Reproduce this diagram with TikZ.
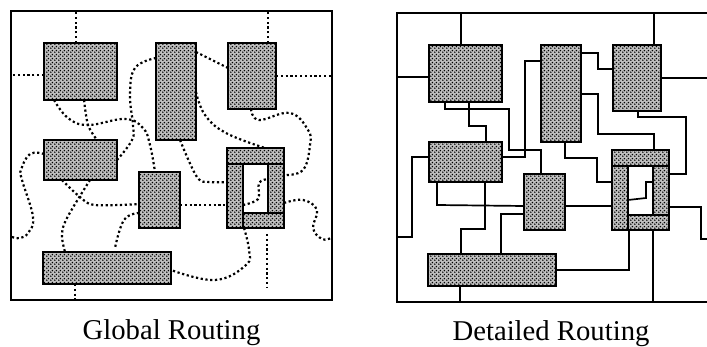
\documentclass[tikz,border=0pt]{standalone}
\usepackage{fontspec}
\setmainfont{Liberation Serif}
\usetikzlibrary{calc,positioning,patterns}
\pgfdeclarepatternformonly{chipdots}{\pgfqpoint{-2pt}{-2pt}}{\pgfqpoint{2pt}{2pt}}{\pgfqpoint{4pt}{4pt}}{%
  \pgfpathcircle{\pgfqpoint{-1pt}{-1pt}}{1pt}
  \pgfpathcircle{\pgfqpoint{1pt}{1pt}}{1pt}
  \pgfusepath{fill}}
\tikzset{
  frameline/.style={draw,line width=1.7pt,inner sep=0pt,outer sep=0pt,anchor=north west},
  blockbox/.style={draw,line width=2.6pt,preaction={fill=black!25},pattern=chipdots,inner sep=0pt,outer sep=0pt,anchor=north west},
  holebox/.style={draw,line width=2.6pt,fill=white,inner sep=0pt,outer sep=0pt,anchor=north west},
  dotroute/.style={line width=2.2pt,dash pattern=on 2.2pt off 2.6pt},
  wireroute/.style={line width=1.7pt,line join=miter},
  caption/.style={font=\fontsize{28.7}{30}\selectfont,anchor=base}
}
\newcommand{\blocknode}[6][blockbox]{%
  \node[#1,minimum width=#5pt,minimum height=#6pt] (#2) at (#3,#4) {};}
\newcommand{\placeblocks}[1]{%
  \blocknode{#1A}{44}{43}{73}{57}
  \blocknode{#1B}{156}{43}{40}{97}
  \blocknode{#1C}{228}{43}{48}{66}
  \blocknode{#1D}{44}{140}{73}{40}
  \blocknode{#1E}{139}{172}{41}{56}
  \blocknode{#1F}{43}{252}{128}{32}
  \blocknode{#1G}{227}{148}{57}{80}
  \blocknode[holebox]{#1H}{243}{164}{25}{49}
  \draw[line width=2.6pt] (#1G.west |- #1H.north) -- (#1H.north west);
  \draw[line width=2.6pt] (#1H.north east) -- (#1G.east |- #1H.north);
  \draw[line width=2.6pt] (#1H.south east) -- (#1G.east |- #1H.south);
  \draw[line width=2.6pt] (#1H.south west) -- (#1H.south west |- #1G.south);}
\begin{document}
\begin{tikzpicture}[x=1pt,y=-1pt]
\useasboundingbox (0,0) rectangle (707,347);
% left panel
\node[frameline,minimum width=321pt,minimum height=289pt] (gFrame) at (11,11) {};
\placeblocks{g}
\draw[dotroute] ([xshift=32pt]gA.north west) -- ([xshift=32pt]gA.north west |- gFrame.north);
\draw[dotroute] ([xshift=40pt]gC.north west) -- ([xshift=40pt]gC.north west |- gFrame.north);
\draw[dotroute] ([yshift=-32pt]gA.north west) -- ([yshift=-32pt]gA.north west -| gFrame.west);
\draw[dotroute] ([yshift=-33pt]gC.north east) -- ([yshift=-33pt]gC.north east -| gFrame.east);
\draw[dotroute] plot[smooth,tension=0.7] coordinates {([xshift=10pt]gA.south west) (68,118) (88,125) (125,119) (143,128) (150,145) ([xshift=16pt]gE.north west)};
\draw[dotroute] plot[smooth] coordinates {([xshift=40pt]gA.south west) (88,125) ([xshift=53pt]gD.north west)};
\draw[dotroute] plot[smooth,tension=0.7] coordinates {([yshift=-15pt]gB.north west) (135,68) (130,95) (133,125) (132,140) ([yshift=-20pt]gD.north east)};
\draw[dotroute] ([yshift=-9pt]gB.north east) -- ([yshift=-25pt]gC.north west);
\draw[dotroute] plot[smooth,tension=0.7] coordinates {([yshift=-49pt]gB.north east) (205,115) (226,133) ([xshift=38pt]gG.north west)};
\draw[dotroute] plot[smooth,tension=0.7] coordinates {([xshift=23pt]gC.south west) (259,120) (290,113) (308,130) (310,145) (303,170) ([yshift=-27pt]gG.north east)};
\draw[dotroute] plot[smooth,tension=0.6] coordinates {([xshift=24pt]gB.south west) (197,177) (210,182) ([yshift=-34pt]gG.north west)};
\draw[dotroute] plot[smooth,tension=0.7] coordinates {([yshift=-14pt]gD.north west) (30,154) (21,170) (22,180) (33,217) (28,233) (20,238) (12,237)};
\draw[dotroute] plot[smooth,tension=0.6] coordinates {([xshift=18pt]gD.south west) (80,197) (95,205) ([yshift=-32pt]gE.north west)};
\draw[dotroute] plot[smooth,tension=0.6] coordinates {([xshift=46pt]gD.south west) (67,218) (62,235) ([xshift=22pt]gF.north west)};
\draw[dotroute] plot[smooth,tension=0.7] coordinates {([yshift=-41pt]gE.north west) (124,220) (115,248)};
\draw[dotroute] ([yshift=-33pt]gE.north east) -- ([yshift=-57pt]gG.north west);
\draw[dotroute] plot[smooth,tension=0.6] coordinates {([yshift=-41pt]gH.north west) (258,199) (259,183) ([yshift=-15pt]gH.north east)};
\draw[dotroute] plot[smooth,tension=0.7] coordinates {([yshift=-55pt]gG.north east) (303,200) (317,210) (313,228) (322,239) (331,238)};
\draw[dotroute] plot[smooth,tension=0.7] coordinates {([xshift=17pt]gG.south west) (249,250) (246,265) (215,280) ([yshift=-18pt]gF.north east)};
\draw[dotroute] ([xshift=40pt,yshift=-6pt]gG.south west) -- (267,288);
\draw[dotroute] ([xshift=32pt]gF.south west) -- ([xshift=32pt]gF.south west |- gFrame.south);
% right panel
\node[frameline,minimum width=330pt,minimum height=289pt] (dFrame) at (397,13) {};
\begin{scope}[shift={(385,2)}]
\placeblocks{d}
\end{scope}
\coordinate (dStub) at (412,237);
\draw[wireroute] ([xshift=32pt]dA.north west) -- ([xshift=32pt]dA.north west |- dFrame.north);
\draw[wireroute] ([xshift=41pt]dC.north west) -- ([xshift=41pt]dC.north west |- dFrame.north);
\draw[wireroute] ([yshift=-32pt]dA.north west) -- ([yshift=-32pt]dA.north west -| dFrame.west);
\draw[wireroute] ([yshift=-33pt]dC.north east) -- (707,78);
\draw[wireroute] ([xshift=16pt]dA.south west) -- (445,109) -- (509,109) -- (509,150) -- (541,150) -- (541,174);
\draw[wireroute] ([xshift=40pt]dA.south west) -- (469,126) -- (486,126) -- ([xshift=57pt]dD.north west);
\draw[wireroute] ([yshift=-16pt]dB.north west) -- (525,61) -- (525,157) -- ([yshift=-15pt]dD.north east);
\draw[wireroute] ([yshift=-8pt]dB.north east) -- (598,53) -- (598,69) -- ([yshift=-24pt]dC.north west);
\draw[wireroute] ([yshift=-49pt]dB.north east) -- (598,94) -- (598,134) -- (654,134) -- ([xshift=42pt]dG.north west);
\draw[wireroute] ([xshift=25pt]dC.south west) -- (638,117) -- (686,117) -- (686,174) -- ([yshift=-24pt]dG.north east);
\draw[wireroute] ([xshift=24pt]dB.south west) -- (565,158) -- (597,158) -- (597,182) -- ([yshift=-32pt]dG.north west);
\draw[wireroute] ([yshift=-15pt]dD.north west) -- (412,157) -- (dStub) -- (dFrame.west |- dStub);
\draw[wireroute] ([xshift=8pt]dD.south west) -- (437,205) -- ([yshift=-32pt]dE.north west);
\draw[wireroute] ([xshift=56pt]dD.south west) -- (485,229) -- (461,229) -- ([xshift=33pt]dF.north west);
\draw[wireroute] ([yshift=-40pt]dE.north west) -- (501,214) -- ([xshift=73pt]dF.north west);
\draw[wireroute] ([yshift=-32pt]dE.north east) -- ([yshift=-56pt]dG.north west);
\draw[wireroute] ([yshift=-34pt]dH.north west) -- (646,198) -- (646,182) -- ([yshift=-16pt]dH.north east);
\draw[wireroute] ([yshift=-57pt]dG.north east) -- (701,207) -- (701,239) -- (707,239);
\draw[wireroute] ([xshift=17pt]dG.south west) -- (629,270) -- ([yshift=-16pt]dF.north east);
\draw[wireroute] ([xshift=41pt]dG.south west) -- ([xshift=41pt]dG.south west |- dFrame.south);
\draw[wireroute] ([xshift=32pt]dF.south west) -- ([xshift=32pt]dF.south west |- dFrame.south);
% captions
\node[caption] (globalcap) at (171.5,340) {Global Routing};
\node[caption] (detailcap) at (551,341) {Detailed Routing};
\end{tikzpicture}
\end{document}
